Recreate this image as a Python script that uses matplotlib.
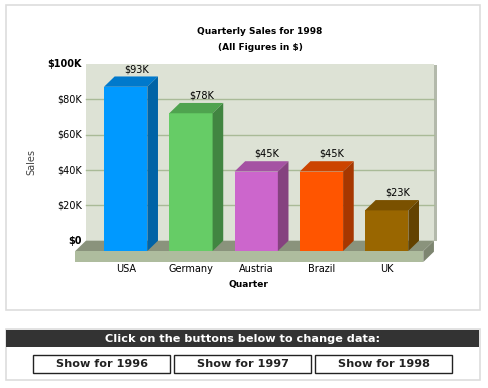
import matplotlib.pyplot as plt
from matplotlib.patches import Polygon, Rectangle

# données
countries = ['USA', 'Germany', 'Austria', 'Brazil', 'UK']
sales_k = [93, 78, 45, 45, 23]
value_labels = ['$93K', '$78K', '$45K', '$45K', '$23K']
y_ticks = [0, 20, 40, 60, 80, 100]
y_tick_labels = ['$0', '$20K', '$40K', '$60K', '$80K', '$100K']
years = ['1996', '1997', '1998']

# couleurs (face, dessus, côté)
face_colors = ['#0099FF', '#66CC66', '#CC66CC', '#FF5500', '#996600']
top_colors = ['#0079CC', '#4FA34F', '#A552A3', '#CC4400', '#7A5100']
side_colors = ['#0063A6', '#418541', '#85427F', '#A63700', '#634200']

W, H = 488, 388
fig = plt.figure(figsize=(W / 100, H / 100), dpi=100)
fig.patch.set_facecolor('white')


def fx(px):
    return px / W


def fy(py):
    return 1 - py / H


# cadre du graphique
fig.patches.append(Rectangle((fx(5.5), fy(309.5)), fx(474), (304.5) / H,
                             transform=fig.transFigure, facecolor='white',
                             edgecolor='#DDDDDD', lw=1.2, zorder=-2))

# axes : plan avant, x en catégories, y en milliers de $
ax = fig.add_axes([fx(75.3), fy(262), fx(437 - 75.3), (262 - 64) / H])
ax.set_zorder(2)
ax.patch.set_alpha(0)
ax.set_xlim(-0.772, 4.771)
ax.set_ylim(-6.23, 105.9)
ax.axis('off')

x0, x1 = -0.772, 4.561
DX, DY = 0.163, 5.84
slab = 6.23

# mur du fond + ombre
ax.add_patch(Rectangle((x1 + DX, DY), 0.05, 100 - 0.7, facecolor='#B3B9AB',
                       edgecolor='none', clip_on=False, zorder=1))
ax.add_patch(Rectangle((x0 + DX, DY), x1 - x0, 100, facecolor='#DDE2D5',
                       edgecolor='none', clip_on=False, zorder=2))
for v in y_ticks[1:-1]:
    ax.plot([x0 + DX, x1 + DX], [v + DY, v + DY], color='#A9BA97', lw=1,
            clip_on=False, zorder=3)

# sol
ax.add_patch(Polygon([(x0, 0), (x0 + DX, DY), (x1 + DX, DY), (x1, 0)],
                     facecolor='#8A937C', edgecolor='none', clip_on=False, zorder=4))
ax.add_patch(Rectangle((x0, -slab), x1 - x0, slab, facecolor='#AEBC9E',
                       edgecolor='none', clip_on=False, zorder=4))
ax.add_patch(Polygon([(x1, 0), (x1 + DX, DY), (x1 + DX, DY - slab), (x1, -slab)],
                     facecolor='#7D8570', edgecolor='none', clip_on=False, zorder=4))

# barres 3D
bw = 0.664
for i, v in enumerate(sales_k):
    l, r = i - bw / 2, i + bw / 2
    ax.add_patch(Rectangle((l, 0), bw, v, facecolor=face_colors[i],
                           edgecolor='none', clip_on=False, zorder=6))
    ax.add_patch(Polygon([(l, v), (l + DX, v + DY), (r + DX, v + DY), (r, v)],
                         facecolor=top_colors[i], edgecolor='none',
                         clip_on=False, zorder=6))
    ax.add_patch(Polygon([(r, 0), (r + DX, DY), (r + DX, v + DY), (r, v)],
                         facecolor=side_colors[i], edgecolor='none',
                         clip_on=False, zorder=6))
    ax.text(i + DX, v + DY + 1.3, value_labels[i], ha='center', va='bottom',
            fontsize=7, color='black', zorder=7)
    ax.text(i, -10.4, countries[i], ha='center', va='center', fontsize=7)

# étiquettes de l'axe y
for v, lab in zip(y_ticks, y_tick_labels):
    bold = v in (y_ticks[0], y_ticks[-1])
    ax.text(-0.674, v + DY, lab, ha='right', va='center', fontsize=7,
            fontweight='bold' if bold else 'normal')

# titres
fig.text(fx(260), fy(31), 'Quarterly Sales for 1998', ha='center', va='center',
         fontsize=6.5, fontweight='bold')
fig.text(fx(260), fy(47), '(All Figures in $)', ha='center', va='center',
         fontsize=6.5, fontweight='bold')
fig.text(fx(248), fy(285), 'Quarter', ha='center', va='center',
         fontsize=6.5, fontweight='bold')
fig.text(fx(31.5), fy(162), 'Sales', ha='center', va='center', rotation=90,
         fontsize=7, color='#444444')

# panneau des boutons
fig.patches.append(Rectangle((fx(5.5), fy(380)), fx(474), 51 / H,
                             transform=fig.transFigure, facecolor='white',
                             edgecolor='#DDDDDD', lw=1.2, zorder=-2))
fig.patches.append(Rectangle((fx(6), fy(347)), fx(473), 17 / H,
                             transform=fig.transFigure, facecolor='#333333',
                             edgecolor='none', zorder=-1))
fig.text(fx(242.5), fy(339), 'Click on the buttons below to change data:',
         ha='center', va='center', fontsize=8.1, fontweight='bold', color='white')
for k, yr in enumerate(years):
    left = 33.3 + k * 141
    fig.patches.append(Rectangle((fx(left), fy(372.7)), fx(136.4), 17.7 / H,
                                 transform=fig.transFigure, facecolor='white',
                                 edgecolor='#222222', lw=1, zorder=-1))
    fig.text(fx(left + 68.2), fy(364), 'Show for ' + yr, ha='center', va='center',
             fontsize=8.1, fontweight='bold', color='#222222')

plt.savefig('out.png', dpi=100)
